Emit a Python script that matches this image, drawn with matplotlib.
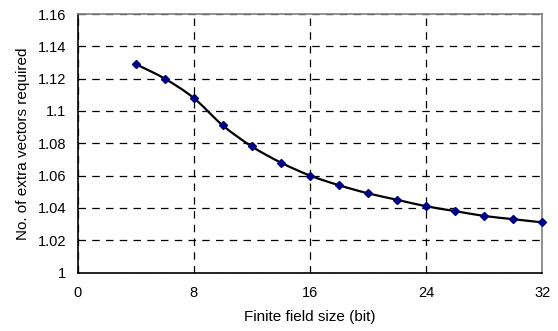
import matplotlib
matplotlib.use("Agg")
import matplotlib.pyplot as plt
import numpy as np
from matplotlib.path import Path
from matplotlib.patches import PathPatch

plt.rcParams['font.family'] = ['Liberation Sans', 'DejaVu Sans']

field_size = [4, 6, 8, 10, 12, 14, 16, 18, 20, 22, 24, 26, 28, 30, 32]
extra_vectors = [1.129, 1.120, 1.108, 1.091, 1.078, 1.068, 1.060, 1.054,
                 1.049, 1.045, 1.041, 1.038, 1.035, 1.033, 1.031]
x_ticks = [0, 8, 16, 24, 32]
y_ticks = [1, 1.02, 1.04, 1.06, 1.08, 1.1, 1.12, 1.14, 1.16]
y_tick_labels = ['1', '1.02', '1.04', '1.06', '1.08', '1.1', '1.12', '1.14', '1.16']

fig = plt.figure(figsize=(5.58, 3.31), dpi=100)
ax = fig.add_axes([0.1389, 0.1767, 0.9722 - 0.1389, 0.9577 - 0.1767])

# smooth curve (Catmull-Rom -> cubic Bezier) through the data points
x = np.array(field_size, float)
y = np.array(extra_vectors, float)
verts = [(x[0], y[0])]
codes = [Path.MOVETO]
n = len(x)
for i in range(n - 1):
    p0 = (x[max(i - 1, 0)], y[max(i - 1, 0)])
    p1 = (x[i], y[i])
    p2 = (x[i + 1], y[i + 1])
    p3 = (x[min(i + 2, n - 1)], y[min(i + 2, n - 1)])
    t = 1 / 6
    c1 = (p1[0] + (p2[0] - p0[0]) * t, p1[1] + (p2[1] - p0[1]) * t)
    c2 = (p2[0] - (p3[0] - p1[0]) * t, p2[1] - (p3[1] - p1[1]) * t)
    verts += [c1, c2, p2]
    codes += [Path.CURVE4] * 3
ax.add_patch(PathPatch(Path(verts, codes), facecolor='none', edgecolor='black',
                       lw=1.6, zorder=3))
ax.plot(field_size, extra_vectors, linestyle='none', marker='D', markersize=4.5,
        color='#000080', zorder=4, clip_on=False)

ax.set_xlim(0, 32)
ax.set_ylim(1, 1.16)
ax.set_xticks(x_ticks)
ax.set_yticks(y_ticks)
ax.set_yticklabels(y_tick_labels)
ax.tick_params(length=0, labelsize=10.5)
ax.tick_params(axis='y', pad=8)
ax.tick_params(axis='x', pad=10)
ax.grid(True, color='black', linestyle=(0, (6, 5)), linewidth=0.9)
ax.set_axisbelow(True)
for s in ['top', 'right']:
    ax.spines[s].set_color('#808080')
    ax.spines[s].set_linewidth(1.2)
for s in ['left', 'bottom']:
    ax.spines[s].set_color('black')
    ax.spines[s].set_linewidth(1.2)
ax.set_xlabel('Finite field size (bit)', fontsize=11, labelpad=7)
ax.set_ylabel('No. of extra vectors required', fontsize=11, labelpad=6)

fig.savefig('out.png', dpi=100)
